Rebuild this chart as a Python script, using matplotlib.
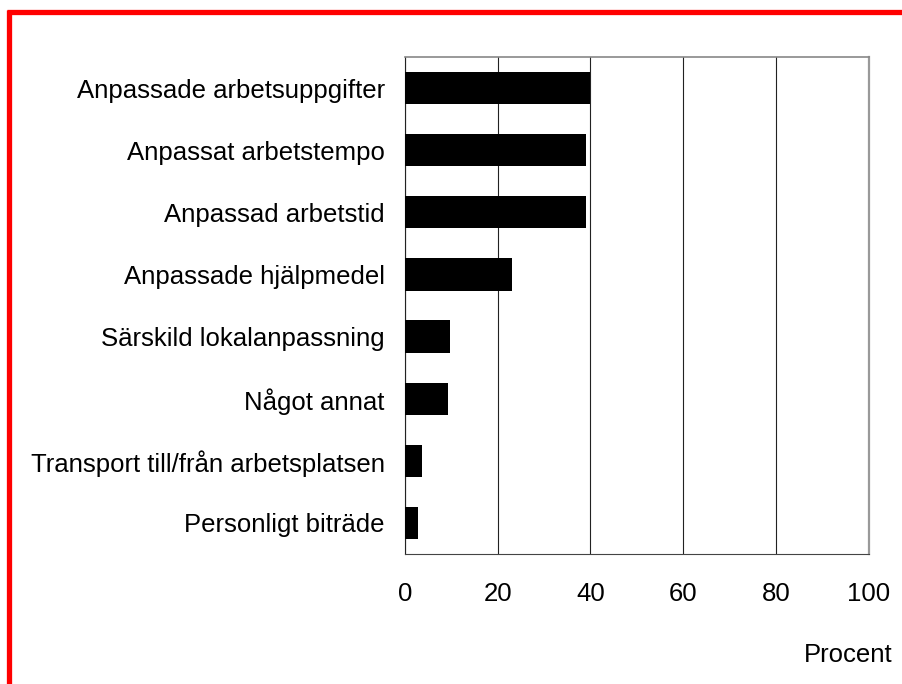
import numpy as np
import matplotlib
matplotlib.use('Agg')
import matplotlib.pyplot as plt
from matplotlib.lines import Line2D

plt.rcParams['font.family'] = ['Liberation Sans', 'DejaVu Sans']

categories = ["Anpassade arbetsuppgifter", "Anpassat arbetstempo", "Anpassad arbetstid",
              "Anpassade hjälpmedel", "Särskild lokalanpassning", "Något annat",
              "Transport till/från arbetsplatsen", "Personligt biträde"]
values = [39.9, 39.0, 39.0, 23.1, 9.7, 9.3, 3.7, 2.8]
xticks = [0, 20, 40, 60, 80, 100]

fig = plt.figure(figsize=(9.02, 6.84), dpi=100)
ax = fig.add_axes([0.449, 0.190, 0.514, 0.7267])

y = np.arange(len(categories))
ax.barh(y, values, height=0.52, color='black', zorder=3)
ax.set_ylim(len(categories) - 0.5, -0.5)
ax.set_xlim(0, 100)
ax.set_yticks(y)
ax.set_yticklabels(categories, fontsize=18.5)
ax.set_xticks(xticks)
ax.set_xticklabels([str(t) for t in xticks], fontsize=18.5)
ax.tick_params(axis='both', length=0)
ax.tick_params(axis='y', pad=14.5)
ax.tick_params(axis='x', pad=20)

ax.grid(axis='x', color='#222222', linewidth=0.8, zorder=1)
ax.spines['left'].set_color('#222222')
ax.spines['bottom'].set_color('#444444')
ax.spines['top'].set_color('#888888')
ax.spines['right'].set_color('#999999')
ax.spines['right'].set_linewidth(1.6)
ax.spines['top'].set_linewidth(1.2)

fig.text(0.989, 0.032, "Procent", fontsize=18.5, ha='right', va='baseline')

# red frame on top and left
fig.add_artist(Line2D([0.0078, 1.0], [0.9825, 0.9825], color='red', linewidth=3.8,
                      solid_capstyle='butt', transform=fig.transFigure))
fig.add_artist(Line2D([0.0105, 0.0105], [0.0, 0.9855], color='red', linewidth=3.8,
                      solid_capstyle='butt', transform=fig.transFigure))

fig.savefig("out.png", dpi=100)
